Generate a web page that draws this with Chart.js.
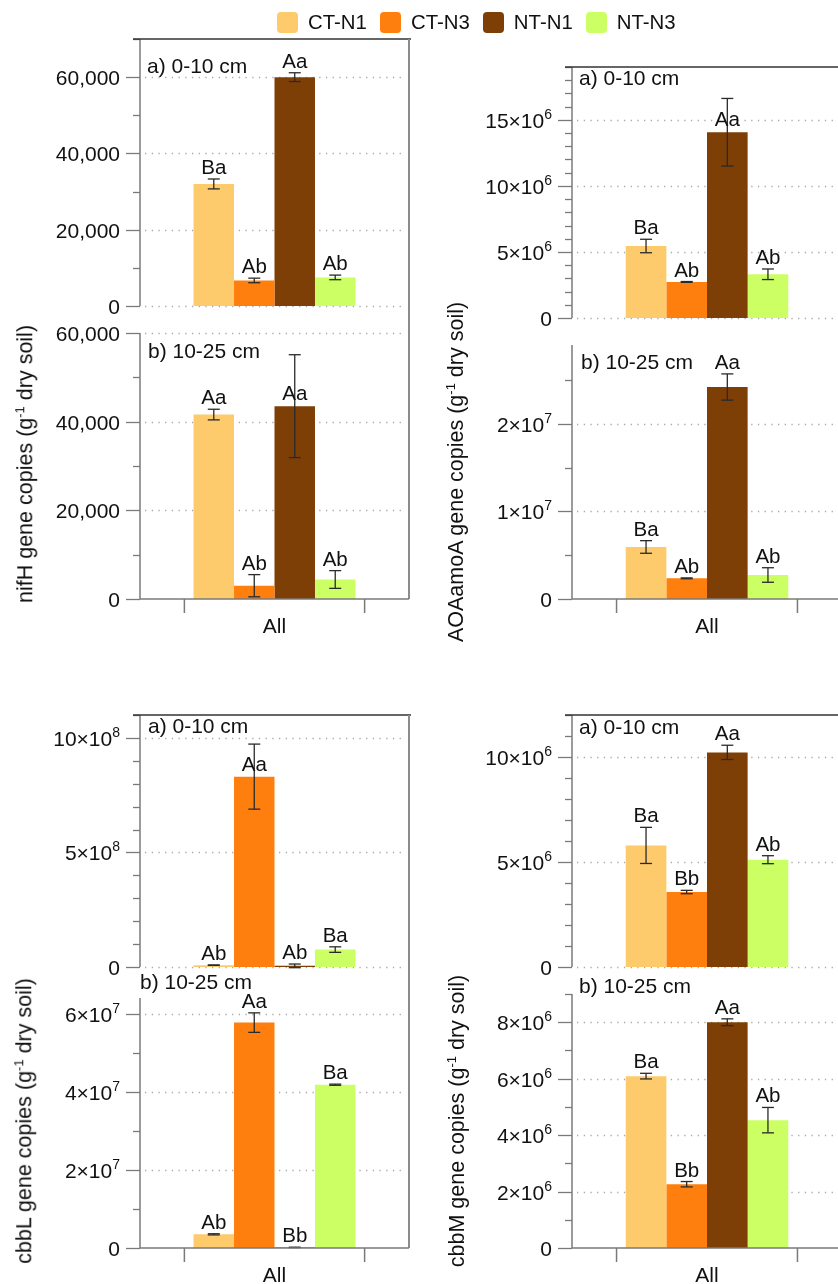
<!DOCTYPE html>
<html><head><meta charset="utf-8">
<script src="https://cdn.jsdelivr.net/npm/chart.js@4"></script>
<style>
html,body{margin:0;padding:0;background:#fff;}
body{width:838px;height:1284px;position:relative;overflow:hidden;font-family:'Liberation Sans',Arial,sans-serif;color:#111;}
canvas{position:absolute;}
.ytitle{position:absolute;white-space:nowrap;font-size:21.5px;line-height:1;transform:translate(-50%,-50%) rotate(-90deg);color:#111;z-index:4;}
.ytitle sup{font-size:13px;line-height:0;vertical-align:0.6em;}
#legend{position:absolute;left:277px;top:12px;display:flex;align-items:center;font-size:20.4px;z-index:5;color:#111;}
.sw{width:21px;height:21px;border-radius:4px;margin-right:10px;}
.lt{margin-right:13px;line-height:21px;}
</style></head><body>
<div id="legend"></div>
<script>
// ---------- data ----------
const categories = ['All'];
const series = ['CT-N1', 'CT-N3', 'NT-N1', 'NT-N3'];
const seriesColors = ['#FDCA6C', '#FF7F0E', '#7E3F06', '#CBFF63'];
const depthLabels = ['a) 0-10 cm', 'b) 10-25 cm'];

const nifH_0_10 = [32000, 6700, 60000, 7500];
const nifH_0_10_se = [1300, 600, 1150, 600];
const nifH_0_10_letters = ['Ba', 'Ab', 'Aa', 'Ab'];
const nifH_10_25 = [41600, 3000, 43500, 4400];
const nifH_10_25_se = [1200, 2500, 11600, 2000];
const nifH_10_25_letters = ['Aa', 'Ab', 'Aa', 'Ab'];

const AOA_0_10 = [5.45e6, 2.73e6, 14.06e6, 3.31e6];
const AOA_0_10_se = [0.51e6, 0.03e6, 2.56e6, 0.4e6];
const AOA_0_10_letters = ['Ba', 'Ab', 'Aa', 'Ab'];
const AOA_10_25 = [5.94e6, 2.36e6, 24.2e6, 2.74e6];
const AOA_10_25_se = [0.72e6, 0.05e6, 1.5e6, 0.83e6];
const AOA_10_25_letters = ['Ba', 'Ab', 'Aa', 'Ab'];

const cbbL_0_10 = [8e6, 8.31e8, 5e6, 7.6e7];
const cbbL_0_10_se = [1e6, 1.42e8, 8e6, 1.2e7];
const cbbL_0_10_letters = ['Ab', 'Aa', 'Ab', 'Ba'];
const cbbL_10_25 = [3.5e6, 5.77e7, 1.5e5, 4.18e7];
const cbbL_10_25_se = [1.5e5, 2.5e6, 5e4, 1.5e5];
const cbbL_10_25_letters = ['Ab', 'Aa', 'Bb', 'Ba'];

const cbbM_0_10 = [5.79e6, 3.57e6, 10.22e6, 5.11e6];
const cbbM_0_10_se = [0.86e6, 0.08e6, 0.34e6, 0.19e6];
const cbbM_0_10_letters = ['Ba', 'Bb', 'Aa', 'Ab'];
const cbbM_10_25 = [6.09e6, 2.26e6, 8.0e6, 4.53e6];
const cbbM_10_25_se = [0.1e6, 0.095e6, 0.12e6, 0.45e6];
const cbbM_10_25_letters = ['Ba', 'Bb', 'Aa', 'Ab'];

// y-axis tick settings: [max, major step, minor step, exponent or null]
const nifH_0_10_axis = [70000, 20000, 10000, null];
const nifH_10_25_axis = [60000, 20000, 10000, null];
const AOA_0_10_axis = [19e6, 5e6, 1e6, 6];
const AOA_10_25_axis = [2.9e7, 1e7, 5e6, 7];
const cbbL_0_10_axis = [11e8, 5e8, 1e8, 8];
const cbbL_10_25_axis = [6.4e7, 2e7, 1e7, 7];
const cbbM_0_10_axis = [12e6, 5e6, 1e6, 6];
const cbbM_10_25_axis = [9e6, 2e6, 1e6, 6];

const yTitles = ['nifH', 'AOAamoA', 'cbbL', 'cbbM'];
const yTitleRest = ' gene copies (g<sup>-1</sup> dry soil)';

// ---------- layout ----------
const FONT = '"Liberation Sans", Arial, sans-serif';
const panels = [
  {L:140,R:409,T:39,B:306, v:nifH_0_10, se:nifH_0_10_se, let:nifH_0_10_letters, ax:nifH_0_10_axis, depth:0, lx:7, ly:28},
  {L:140,R:409,T:333,B:599, v:nifH_10_25, se:nifH_10_25_se, let:nifH_10_25_letters, ax:nifH_10_25_axis, depth:1, lx:8, ly:19, ext:27},
  {L:572,R:842,T:67,B:318, v:AOA_0_10, se:AOA_0_10_se, let:AOA_0_10_letters, ax:AOA_0_10_axis, depth:0, lx:7, ly:12},
  {L:572,R:842,T:345,B:599, v:AOA_10_25, se:AOA_10_25_se, let:AOA_10_25_letters, ax:AOA_10_25_axis, depth:1, lx:9, ly:18, ext:27},
  {L:140,R:409,T:715,B:967, v:cbbL_0_10, se:cbbL_0_10_se, let:cbbL_0_10_letters, ax:cbbL_0_10_axis, depth:0, lx:8, ly:12},
  {L:140,R:409,T:998,B:1248, v:cbbL_10_25, se:cbbL_10_25_se, let:cbbL_10_25_letters, ax:cbbL_10_25_axis, depth:1, lx:0, ly:-15, ext:31},
  {L:572,R:842,T:715,B:967, v:cbbM_0_10, se:cbbM_0_10_se, let:cbbM_0_10_letters, ax:cbbM_0_10_axis, depth:0, lx:7, ly:13},
  {L:572,R:842,T:994,B:1248, v:cbbM_10_25, se:cbbM_10_25_se, let:cbbM_10_25_letters, ax:cbbM_10_25_axis, depth:1, lx:7, ly:-7, ext:27}
];
const titlePos = [[26,464],[457,472],[25,1121],[458,1121]];
const PAD_T = 40, PAD_B = 50, PAD_R = 6, YW = 140;

// legend
const lg = document.getElementById('legend');
series.forEach((s, i) => {
  const sw = document.createElement('div'); sw.className = 'sw'; sw.style.background = seriesColors[i];
  const t = document.createElement('div'); t.className = 'lt'; t.textContent = s;
  lg.appendChild(sw); lg.appendChild(t);
});
// y titles
yTitles.forEach((g, i) => {
  const d = document.createElement('div'); d.className = 'ytitle';
  d.innerHTML = g + yTitleRest;
  d.style.left = titlePos[i][0] + 'px'; d.style.top = titlePos[i][1] + 'px';
  document.body.appendChild(d);
});

function tickList(ax) {
  const [max, major, minor] = ax; const out = [];
  const n = Math.round(max / minor);
  for (let i = 0; i <= n; i++) {
    const v = i * minor; if (v > max * 1.0000001) break;
    const r = v / major;
    out.push({v, major: Math.abs(r - Math.round(r)) < 1e-9});
  }
  return out;
}
function line(ctx, x1, y1, x2, y2) { ctx.beginPath(); ctx.moveTo(x1, y1); ctx.lineTo(x2, y2); ctx.stroke(); }

const panelPlugin = {
  id: 'panelDeco',
  beforeDatasetsDraw(chart) {
    const o = chart.canvas._panel; if (!o) return;
    const {ctx, chartArea: a} = chart; const y = chart.scales.y;
    ctx.save();
    ctx.strokeStyle = '#a8a8a8'; ctx.lineWidth = 1.3; ctx.setLineDash([1.3, 5.4]);
    tickList(o.ax).forEach(t => {
      if (!t.major) return;
      if (t.v === 0 && o.depth === 1) return;
      const py = Math.round(y.getPixelForValue(t.v)) + 0.5;
      line(ctx, a.left + 5, py, a.right - 3, py);
    });
    ctx.restore();
  },
  afterDatasetsDraw(chart) {
    const o = chart.canvas._panel; if (!o) return;
    const {ctx, chartArea: a} = chart; const y = chart.scales.y; const x = chart.scales.x;
    ctx.save();
    // error bars + letters
    series.forEach((s, i) => {
      const el = chart.getDatasetMeta(i).data[0];
      const cx = el.x, v = o.v[i], e = o.se[i];
      const yt = y.getPixelForValue(v + e), yb = y.getPixelForValue(v - e), yv = y.getPixelForValue(v);
      ctx.strokeStyle = '#2a2a2a'; ctx.lineWidth = 1.3;
      line(ctx, cx, yt, cx, yb);
      line(ctx, cx - 6, yt, cx + 6, yt);
      line(ctx, cx - 6, yb, cx + 6, yb);
      const anchor = (yb - yv) > 25 ? yv - 6 : yt - 5;
      ctx.fillStyle = '#111'; ctx.font = '20.5px ' + FONT; ctx.textAlign = 'center'; ctx.textBaseline = 'alphabetic';
      ctx.fillText(o.let[i], cx, anchor);
    });
    // left axis
    ctx.strokeStyle = '#7a7a7a'; ctx.lineWidth = 1.5;
    line(ctx, a.left, a.top, a.left, a.bottom);
    const exp = o.ax[3];
    tickList(o.ax).forEach(t => {
      const py = Math.round(y.getPixelForValue(t.v)) + 0.5;
      ctx.strokeStyle = '#7a7a7a'; ctx.lineWidth = 1.3;
      line(ctx, a.left - (t.major ? 14 : 7), py, a.left, py);
      if (!t.major) return;
      const xr = a.left - 20;
      ctx.fillStyle = '#111'; ctx.textAlign = 'right'; ctx.textBaseline = 'alphabetic';
      if (exp === null || t.v === 0) {
        ctx.font = '21px ' + FONT;
        ctx.fillText(exp === null ? t.v.toLocaleString('en-US') : '0', xr, py + 7.5);
      } else {
        const m = +(t.v / Math.pow(10, exp)).toFixed(3);
        ctx.font = '14px ' + FONT;
        const ew = ctx.measureText(String(exp)).width;
        ctx.fillText(String(exp), xr, py - 2);
        ctx.font = '21px ' + FONT;
        ctx.fillText(m + '\u00d710', xr - ew, py + 7.5);
      }
    });
    // top frame
    if (o.depth === 0) {
      ctx.strokeStyle = '#333'; ctx.lineWidth = 1.4;
      line(ctx, a.left - 7, a.top, a.right + 2, a.top);
    }
    // right border
    ctx.strokeStyle = '#8c8c8c'; ctx.lineWidth = 2;
    line(ctx, a.right, a.top - (o.ext || 0), a.right, a.bottom);
    // bottom axis for lower panels
    if (o.depth === 1) {
      ctx.strokeStyle = '#7a7a7a'; ctx.lineWidth = 1.5;
      line(ctx, a.left, a.bottom, a.right, a.bottom);
      const cx = x.getPixelForValue(0);
      const off = (a.right - a.left) * 0.335;
      line(ctx, cx - off, a.bottom, cx - off, a.bottom + 14);
      line(ctx, cx + off, a.bottom, cx + off, a.bottom + 14);
      ctx.fillStyle = '#111'; ctx.font = '21px ' + FONT; ctx.textAlign = 'center'; ctx.textBaseline = 'middle';
      ctx.fillText(categories[0], cx, a.bottom + 28);
    }
    // panel label
    ctx.fillStyle = '#111'; ctx.font = '21px ' + FONT; ctx.textAlign = 'left'; ctx.textBaseline = 'middle';
    ctx.fillText(depthLabels[o.depth], a.left + o.lx, a.top + o.ly);
    ctx.restore();
  }
};

panels.forEach(p => {
  const c = document.createElement('canvas');
  const w = (p.R - p.L) + YW + PAD_R, h = (p.B - p.T) + PAD_T + PAD_B;
  c.width = w; c.height = h;
  c.style.width = w + 'px'; c.style.height = h + 'px';
  c.style.left = (p.L - YW) + 'px'; c.style.top = (p.T - PAD_T) + 'px';
  c._panel = p;
  document.body.appendChild(c);
  new Chart(c, {
    type: 'bar',
    data: {
      labels: categories,
      datasets: series.map((s, i) => ({label: s, data: [p.v[i]], backgroundColor: seriesColors[i], borderWidth: 0}))
    },
    options: {
      responsive: false, animation: false, events: [],
      layout: {padding: {top: PAD_T, right: PAD_R, bottom: PAD_B, left: 0}},
      datasets: {bar: {categoryPercentage: 0.602, barPercentage: 1}},
      plugins: {legend: {display: false}, tooltip: {enabled: false}},
      scales: {
        x: {display: false},
        y: {min: 0, max: p.ax[0], ticks: {display: false}, grid: {display: false}, border: {display: false},
            afterFit(s) { s.width = YW; }}
      }
    },
    plugins: [panelPlugin]
  });
});
</script>
</body></html>
